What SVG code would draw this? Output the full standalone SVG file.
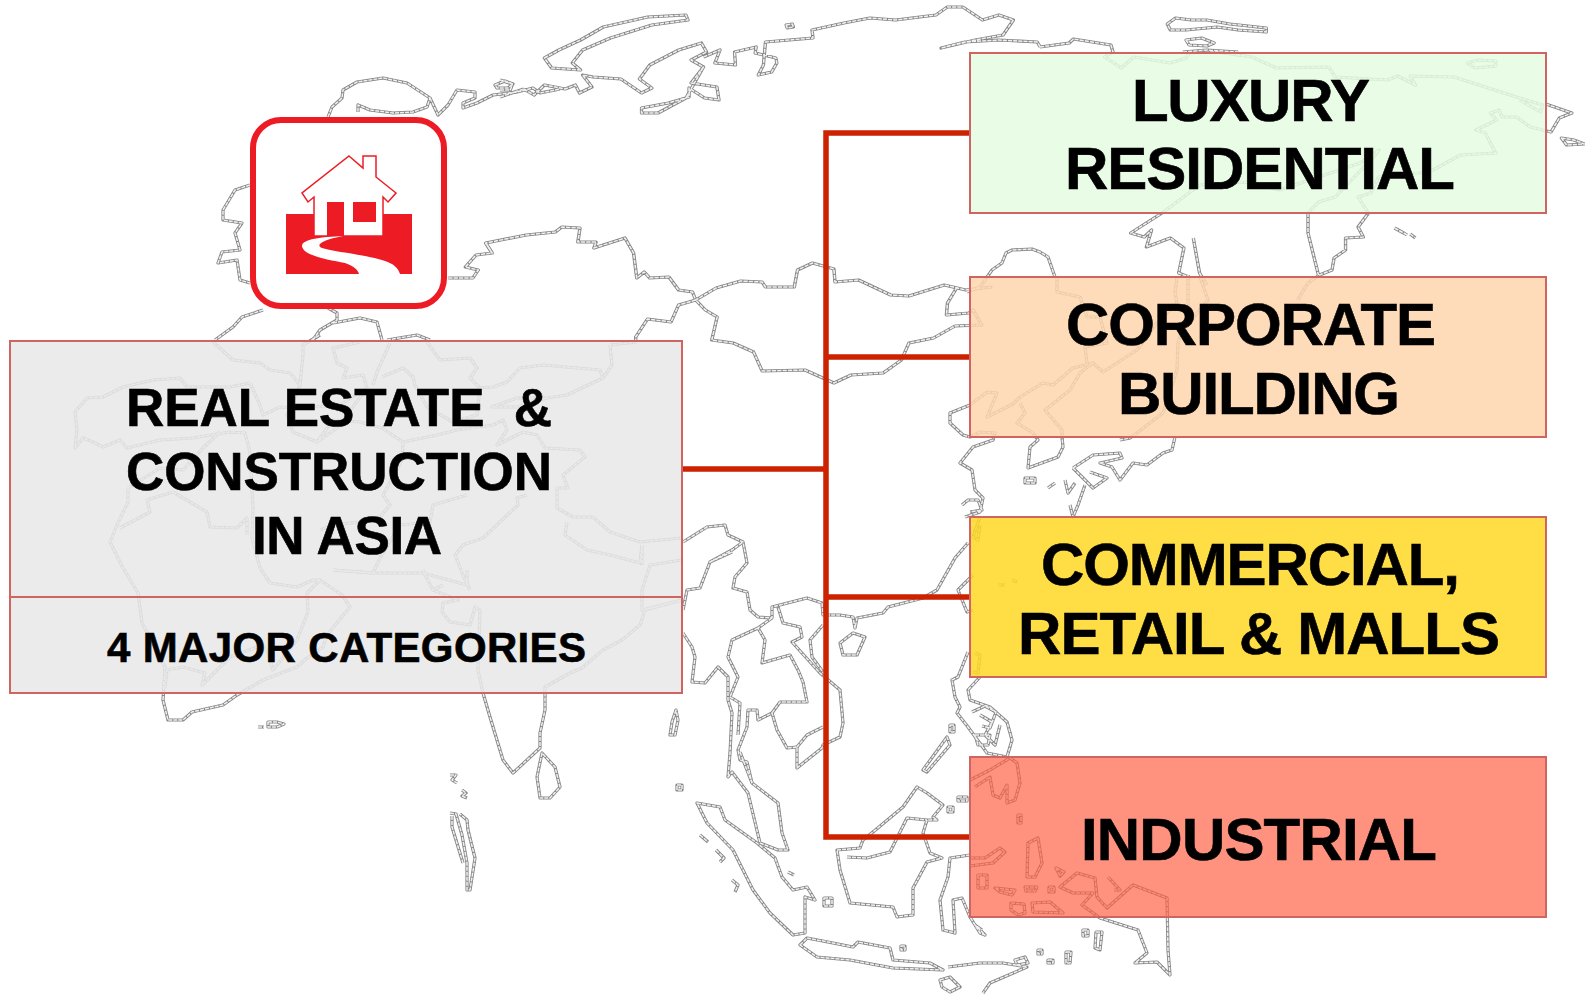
<svg xmlns="http://www.w3.org/2000/svg" xmlns:xlink="http://www.w3.org/1999/xlink" width="1585" height="994" viewBox="0 0 1585 994">
<style>
text{font-family:"Liberation Sans",Arial,Helvetica,sans-serif;font-weight:700;fill:#000;stroke:#000;stroke-width:.6px;white-space:pre}
.t60{font-size:60px}.t53{font-size:53px}.t42{font-size:42px}
.box{stroke:#cf6460;stroke-width:2}
.c{fill:none;stroke:#cc2200;stroke-width:5.5;stroke-linecap:square}
.mo{fill:none;stroke:#858585;stroke-width:3.2;stroke-linejoin:round}
.mi{fill:none;stroke:#f0f0f0;stroke-width:1.5;stroke-linejoin:round;stroke-dasharray:4 1}
.ic{fill:#ed1c24}
</style>
<defs>
<g id="coast">
<!-- Europe, Arctic west -->
<path d="M328,117 332,107 342,98 343,90 357,82 383,78 407,83 430,98 427,107 413,112 393,113 370,110 358,105 358,112M430,98 438,115 448,105 457,90 475,92 475,98 463,103 463,108 477,103 493,95 517,92 533,88 540,93 560,89M495,85 505,81 513,84 508,88 497,88Z"/>
<path d="M250,185 235,190 223,210 223,220 242,223 235,233 240,250 222,252 218,263 237,260 240,280 250,283M263,310 242,317 233,327 215,340M328,308 337,313 337,320 320,330 313,340M333,323 360,318 377,322 382,340M387,340 417,335 430,340"/>
<!-- grey box interior -->
<path d="M213,342 233,360 260,363 270,370 290,373 300,385 287,415 293,432 317,442 337,428 367,388 363,375 343,378 347,368 337,363 333,348 347,345 360,342M300,385 303,355 303,345 320,335"/>
<path d="M250,383 230,387 187,387 180,378 153,380 123,387 103,397 87,398 75,412 77,430 75,448 83,438 93,442 103,447 120,440 127,448 160,440 193,438 230,432 245,433 250,452 253,508 252,538 260,568 270,583M250,383 260,405 263,415 280,407 300,408 340,405 367,388"/>
<path d="M128,488 160,468 183,470 203,448 220,432M128,488 128,502 117,525 110,542 123,568 138,593 142,623 165,667 163,700 168,720 183,720 192,712 223,705 237,695 263,680 297,667 307,658 323,647 327,635 350,607 342,595 320,580 313,580 297,587 270,583M165,687 167,670 183,667 205,673 202,685 230,657 263,645"/>
<path d="M173,492 147,500 150,512 120,528M173,492 207,512 210,527 237,528 247,518 247,535M320,580 307,593 308,612 297,640 273,670 268,653 263,645"/>
<path d="M427,342 440,360 470,358 477,368 470,378 477,385 480,388 493,387 507,382 520,368 543,365 600,370 603,378 567,395 547,398 517,398 492,407 517,407 547,398M610,345 612,365 603,378M637,342 610,345"/>
<path d="M390,343 377,372 373,385M382,377 403,368 413,377 415,385 427,407 453,422 477,415 480,388M437,435 457,430 493,425 503,420 507,430 497,445 523,432 537,435 545,448 580,450 585,457 563,475 568,488 557,488 557,508 573,517 593,517 610,532 640,542 682,538M567,522 565,535 587,550 610,555 640,563 642,545M437,435 403,442 382,428 360,422 333,420 317,442M403,442 402,460 383,495 390,505 380,517 360,522 333,525 320,530M467,495 433,505 430,522 400,525 380,558 373,573 333,570M527,495 517,498 518,505 483,538 463,545 455,555 463,575 470,590"/>
<path d="M423,570 425,575 433,590 458,600 443,603 442,612 450,622 470,625 475,607 480,610 478,670 483,693 490,717 503,760 513,773 540,748 540,733 545,710 545,687 570,673 582,668 603,650 622,640 640,625 645,610 682,600M333,570 373,573 423,573 467,585 467,570M443,585 433,590M682,560 650,565 642,590 642,610 682,600M642,545 642,565"/>
<path d="M542,753 537,777 540,798 550,798 560,787 555,767Z"/>
<path d="M258,727 264,727M268,722 277,722 284,724 277,727 268,727ZM450,775 456,775 452,780 457,783M462,790 466,793 462,796 467,798M450,813 456,814 462,835 467,863 467,890 470,890 475,858 468,830 467,820 460,814M452,816 452,827 463,863"/>
<!-- SE Asia -->
<path d="M683,542 707,527 725,525 728,535 743,542 747,563 735,577 733,588 747,592 750,610 758,617 772,618 772,607 807,598 822,603 823,615 840,615 853,617 855,628 857,618 883,613 888,607 923,598 937,590 955,558 968,543M710,562 732,552M683,610 687,590 700,588 710,562 732,550 743,542M683,633 692,647 695,657 692,682 705,683 718,667 728,677 728,700 732,713 730,753 728,777 732,772 748,793 760,843 778,850 788,850 782,833 778,803 752,783 747,762 740,760 738,750 747,727 748,710 757,710 758,720 772,713 777,730 787,748 797,747 797,768 822,748 823,745 840,737 843,723 840,690 820,673 792,642 802,637 800,627 783,623 778,607"/>
<path d="M758,628 732,640 728,657 738,677 730,697 740,703 738,735M772,618 758,628 765,640 762,663 790,655 798,670 803,682 807,702 780,702 772,713M823,625 810,640 812,657 823,672M823,727 807,735 797,747M740,752 752,783"/>
<path d="M840,643 853,633 865,637 857,655 843,655Z"/>
<path d="M697,803 720,807 725,820 757,843 775,858 782,877 793,890 807,887 815,900 805,897 805,933 793,935 770,913 753,890 733,850 707,823Z"/>
<path d="M700,835 708,842M716,850 724,858 720,862M732,880 738,885 735,892M788,872 794,875M824,898 832,898 832,906 824,906ZM677,785 682,785 682,790 677,790ZM676,710 672,722 670,735 675,735 678,720Z"/>
<path d="M800,945 807,938 833,943 853,947 858,942 890,948 893,960 930,963 943,970 893,968 850,960 817,957ZM948,967 980,963 1003,963 1027,967 990,983 983,993M1015,960 1025,957 1028,963 1017,965ZM940,980 950,977 960,987 950,992 942,987Z"/>
<path d="M837,850 860,848 863,840 873,832 903,807 917,787 927,793 943,805 933,817 937,820 927,820 923,833 930,853 942,858 927,862 913,888 913,915 897,917 893,907 850,903 840,870ZM847,857 867,858 890,852 907,818 927,820"/>
<path d="M970,855 950,858 948,877 940,900 943,930 955,933 953,900 962,898 970,917 980,933 985,935 975,925 982,930M970,858 985,858 1000,848 1005,852 993,863 970,866"/>
<path d="M970,780 990,770 1010,758 1017,763 1020,783 1015,800 1007,803 1007,785 1000,798 993,795 990,777 975,787"/>
<path d="M968,652 958,677 952,680 955,697 960,707 957,713 968,727 987,753 1007,757 1012,740 1007,722 990,707 970,700 968,690 980,677M980,715 992,722 985,735 995,745 1000,725M972,712 985,706 996,712 990,728 982,726M975,735 990,735 988,745 978,745ZM923,770 947,737 950,745 927,772ZM950,725 954,725 954,732 950,732Z"/>
<path d="M980,517 973,537 978,540 980,525M973,575 958,590 967,612 973,610M975,653 980,655 978,673 973,672M998,585 1005,585M1012,580 1017,582"/>
<path d="M1027,877 1028,843 1038,838 1042,863 1035,877ZM1056,868 1064,872 1060,876ZM1060,887 1077,873 1095,878 1097,897 1107,908 1133,885 1167,898 1168,950 1170,975 1157,962 1135,963 1147,953 1138,930 1100,918 1082,905 1093,893 1073,893ZM1108,877 1120,890 1114,890M1032,903 1050,902 1063,913 1033,912ZM1011,903 1024,904 1025,913 1018,915 1011,910ZM995,888 1015,890 1012,895 1000,892ZM978,875 987,875 987,888 978,888ZM1025,887 1037,887 1035,891 1026,891ZM1049,887 1054,887 1054,892 1049,892ZM1018,815 1021,815 1021,823 1018,823ZM958,797 967,797 967,801 958,801ZM948,807 953,807 953,812 948,812ZM1083,930 1088,930 1088,936 1083,936ZM1096,932 1102,932 1100,950 1095,948ZM1066,952 1071,952 1070,963 1066,963ZM1048,960 1053,960 1053,963 1048,963ZM1038,950 1042,950 1042,954 1038,954ZM901,946 905,946 905,950 901,950Z"/>
<!-- NE Asia (peach box and below) -->
<path d="M1093,363 1073,368 1053,385 1043,383 1020,397 1013,404 987,417 997,393 987,392 970,405 950,413 950,423 963,435 970,437 980,432 995,433 993,440 973,447 960,463 972,470 975,490 983,498 980,512 965,517M962,505 968,500 978,500 982,510 970,512"/>
<path d="M1020,403 1025,413 1017,423 1033,433 1038,440 1030,447 1028,468 1058,457 1063,447 1062,437 1062,430 1045,410 1070,390 1080,373 1093,363 1103,372 1137,350 1157,323 1177,303"/>
<path d="M1087,363 1085,347 1107,343 1100,317 1087,317 1080,297 1057,292 1057,277M1188,275 1188,310 1178,343 1177,370 1163,413 1137,433 1130,438 1120,440M1177,277 1175,293 1177,303M1200,277 1208,300 1193,318M1073,468 1093,455 1120,453 1122,458 1100,463 1112,467 1120,480 1133,463 1147,465 1163,453 1172,450 1175,437M1073,468 1093,488 1107,478 1090,472M1065,480 1068,493 1075,483M1070,505 1073,517 1078,505 1085,485M1025,478 1035,478 1035,483 1025,483ZM1048,488 1055,483"/>
</g>
<g id="coast3" transform="matrix(1.033 0 0 1 -16.5 0)">
<path d="M523,89 533,95 543,85 563,89 573,85 577,93 589,87 580,75 590,77 617,79 637,93 647,88 635,79 645,65 673,50 695,43 700,52 685,60 697,67 685,83 710,87 712,100 698,98 683,88 683,97 663,103 637,108 637,113 653,113 680,98 697,67M697,57 713,50 708,63 728,65 727,52 748,47 747,53 767,58 768,63 763,72 750,75 755,65 757,42 803,38 802,30 833,23 858,18 883,20 922,15 933,7 948,7 967,20 983,15 997,20 987,35 960,40 927,48 950,42 983,40 1020,42 1023,47"/>
<path d="M543,58 557,50 578,40 600,27 643,17 680,15 682,20 647,25 607,38 580,50 570,63 578,70 550,68ZM777,25 783,24 784,27 778,28Z"/>
<path d="M500,97 523,89M500,80 512,84 510,90 500,90"/>
</g>
<g id="coast4" transform="matrix(1.0428 0 0 1 -44.5 0)">
<path d="M1040,47 1068,43 1072,39 1108,45 1110,52 1102,57 1118,68 1130,57 1165,63 1180,58 1183,53 1210,52 1243,57 1267,68 1317,67 1323,77 1373,80 1383,76 1400,85 1395,76 1437,77 1500,98 1522,105 1520,112 1500,100M1525,104 1550,113 1538,118 1530,132 1510,127 1497,117 1483,117 1480,110 1472,113 1478,120 1458,130 1467,133 1477,153 1443,155 1417,170 1403,173 1365,177 1357,193 1345,197 1355,213 1345,227 1350,237 1333,238 1333,250 1322,258 1320,270 1308,275 1297,283 1287,300M1297,213 1297,233 1307,275M1297,213 1307,202 1323,197 1360,157 1365,150 1347,163 1270,190 1240,182 1193,185 1157,213 1127,233 1140,237 1147,230 1142,247 1165,238 1178,248 1173,273 1185,278M1187,238 1193,273 1200,285"/>
<path d="M1450,63 1460,60 1477,61 1477,66 1457,68ZM1380,228 1387,232 1392,235M1395,234 1400,238M1540,138 1552,140 1562,144 1545,145Z"/>
<path d="M1162,24 1170,18 1185,20 1200,20 1222,24 1257,28 1257,32 1230,30 1210,27 1180,30 1165,30ZM1180,40 1195,38 1207,43 1200,46 1183,45ZM1177,52 1200,50 1230,52"/>
</g>
<g id="coast8" transform="matrix(1.0714 0 0 1 -30.7 0)">
<path d="M447,278 470,278 475,270 463,267 473,255 488,253 482,243 520,235 547,232 553,227 570,228 568,242 585,242 583,248 612,238 620,253 623,278 630,272 635,278 653,277 662,290 675,292 678,300 697,288 720,281 740,282 743,287 770,287 773,270 787,263 807,269 808,282 830,280 860,295 877,296 910,285 930,290 955,287"/>
<path d="M922,287 913,303 912,315 933,313 937,310 945,325 920,326 900,338 877,343 870,360 853,373 823,375 807,383 780,370 740,371 732,352 713,343 693,340 698,317 687,310 678,300 662,305 655,322 633,319 622,337 622,342M482,243 488,253"/>
</g>
<path id="coast12" d="M967,292 980,287 992,270 1002,263 1006,253 1012,250 1032,249 1040,252 1048,257 1055,277"/>
</defs>

<g id="map">
<g class="mo"><use xlink:href="#coast"/><use xlink:href="#coast3"/><use xlink:href="#coast4"/><use xlink:href="#coast8"/><use xlink:href="#coast12"/></g>
<g class="mi"><use xlink:href="#coast"/><use xlink:href="#coast3"/><use xlink:href="#coast4"/><use xlink:href="#coast8"/><use xlink:href="#coast12"/></g>
</g>

<g id="connectors">
<path class="c" d="M826,133V837M826,133H968M826,357H968M826,597H968M826,837H968M684,469H826"/>
</g>

<g id="icon">
<rect x="253" y="120" width="191" height="186" rx="28" fill="#fff" stroke="#ed1c24" stroke-width="6"/>
<rect class="ic" x="286" y="214" width="126" height="60"/>
<path d="M349,156 363,168 363,156 376,156 376,177 396,193 388,202 383,197 383,236 314,236 314,197 308,202 302,193Z" fill="#fff" stroke="#ed1c24" stroke-width="1.5"/>
<rect class="ic" x="327" y="202" width="17" height="34"/>
<rect class="ic" x="353" y="202" width="23" height="20"/>
<path d="M343,236C322,237 302,239 302,246C303,256 330,260 345,263C354,266 358,270 359,274H400C398,268 394,264 385,261C368,255 335,252 322,248C315,245 322,240 343,236Z" fill="#fff"/>
</g>

<g id="main">
<rect class="box" x="10" y="341" width="672" height="352" fill="#e8e8e8" fill-opacity=".87"/>
<path class="box" d="M10,597H682" fill="none"/>
<text class="t53" x="126" y="426" textLength="426">REAL ESTATE  &amp;</text>
<text class="t53" x="126" y="490" textLength="426">CONSTRUCTION</text>
<text class="t53" x="252" y="554" textLength="190">IN ASIA</text>
<text class="t42" x="107" y="662" textLength="479">4 MAJOR CATEGORIES</text>
</g>
<g id="luxury">
<rect class="box" x="970" y="53" width="576" height="160" fill="#e4fbe2" fill-opacity=".85"/>
<text class="t60" x="1132" y="121" textLength="238">LUXURY</text>
<text class="t60" x="1065" y="189" textLength="390">RESIDENTIAL</text>
</g>
<g id="corporate">
<rect class="box" x="970" y="277" width="576" height="160" fill="#ffd6ad" fill-opacity=".85"/>
<text class="t60" x="1066" y="345" textLength="370">CORPORATE</text>
<text class="t60" x="1118" y="414" textLength="282">BUILDING</text>
</g>
<g id="commercial">
<rect class="box" x="970" y="517" width="576" height="160" fill="#ffd723" fill-opacity=".85"/>
<text class="t60" x="1041" y="585" textLength="419">COMMERCIAL,</text>
<text class="t60" x="1018" y="654" textLength="482">RETAIL &amp; MALLS</text>
</g>
<g id="industrial">
<rect class="box" x="970" y="757" width="576" height="160" fill="#fe5e42" fill-opacity=".68"/>
<text class="t60" x="1081" y="860" textLength="356">INDUSTRIAL</text>
</g>
</svg>
